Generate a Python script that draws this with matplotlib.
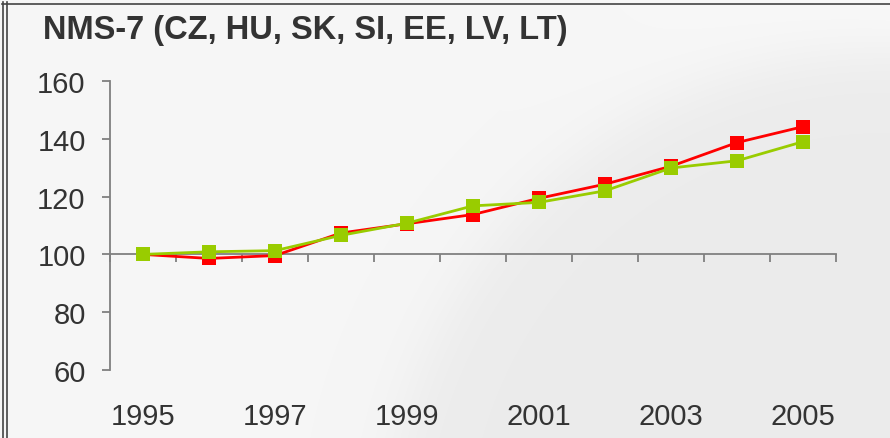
import numpy as np
import matplotlib
matplotlib.use("Agg")
import matplotlib.pyplot as plt
from matplotlib.lines import Line2D
import matplotlib.transforms as mtransforms

years = list(range(1995, 2006))
red_values = [100, 98.6, 99.6, 107.4, 110.6, 113.8, 119.4, 124.3, 130.5, 138.7, 144.2]
green_values = [100, 100.9, 101.3, 106.6, 110.8, 116.8, 118.0, 122.0, 129.9, 132.4, 139.0]
year_labels = ["1995", "1997", "1999", "2001", "2003", "2005"]
y_ticks = [60, 80, 100, 120, 140, 160]
title = "NMS-7 (CZ, HU, SK, SI, EE, LV, LT)"

W, H = 890, 439
fig = plt.figure(figsize=(W / 100, H / 100), dpi=100)

# background gradient
bg = fig.add_axes([0, 0, 1, 1], zorder=-10)
xx, yy = np.meshgrid(np.arange(W) + 0.5, np.arange(H) + 0.5)
d = np.hypot(xx - 889, yy - 555) - 502
t = 1 / (1 + np.exp(d / 18))
light = np.array([0.965, 0.965, 0.965])
lighter = np.array([0.978, 0.978, 0.978])
dark = np.array([0.925, 0.925, 0.925])
top_boost = np.clip((xx - 500) / 400, 0, 1) * np.clip((200 - yy) / 200, 0, 1)
base = light[None, None, :] * (1 - top_boost[..., None]) + lighter[None, None, :] * top_boost[..., None]
img = base * (1 - t[..., None]) + dark[None, None, :] * t[..., None]
bg.imshow(img, extent=[0, W, H, 0], aspect="auto", interpolation="bilinear")
bg.set_xlim(0, W)
bg.set_ylim(H, 0)
bg.axis("off")

# frame lines
for x in (2.5, 6.5):
    fig.add_artist(Line2D([x / W, x / W], [0, 1 - 3 / H], color="#444444", lw=1.2))
fig.add_artist(Line2D([2 / W, 1], [1 - 4.5 / H, 1 - 4.5 / H], color="#444444", lw=1.2))

ax = fig.add_axes([110 / W, 1 - 371 / H, (836 - 110) / W, (371 - 82) / H])
ax.patch.set_alpha(0)
x = np.arange(len(years))
ax.plot(x, red_values, color="#ff0000", lw=2.0, marker="s", ms=9.5,
        markeredgewidth=0, zorder=3, clip_on=False)
ax.plot(x, green_values, color="#99cc00", lw=2.0, marker="s", ms=9.5,
        markeredgewidth=0, zorder=4, clip_on=False)

ax.set_xlim(-0.5, len(years) - 0.5)
ax.set_ylim(60, 160)
for s in ("top", "right"):
    ax.spines[s].set_visible(False)
ax.spines["bottom"].set_position(("data", 100))
ax.spines["bottom"].set_color("#808080")
ax.spines["left"].set_color("#808080")
ax.spines["bottom"].set_linewidth(1.3)
ax.spines["left"].set_linewidth(1.3)

ax.set_xticks(np.arange(-0.5, len(years), 1.0))
ax.tick_params(axis="x", direction="out", length=6, width=1.3, color="#808080",
               labelbottom=False)
ax.set_yticks(y_ticks)
ax.set_yticklabels([str(v) for v in y_ticks])
ax.tick_params(axis="y", direction="out", length=6, width=1.3, color="#808080",
               labelsize=21, labelcolor="#333333", pad=11.5)
for lab in ax.get_yticklabels():
    lab.set_family("Liberation Sans")

trans = mtransforms.blended_transform_factory(ax.transData, fig.transFigure)
for lbl in year_labels:
    ax.text(years.index(int(lbl)), 1 - 425 / H, lbl, transform=trans, ha="center",
            va="baseline", fontsize=21, color="#333333", family="Liberation Sans")

fig.text(43 / W, 1 - 39 / H, title, ha="left", va="baseline", fontsize=23.5,
         fontweight="bold", color="#333333", family="Liberation Sans")

fig.savefig("out.png", dpi=100)
